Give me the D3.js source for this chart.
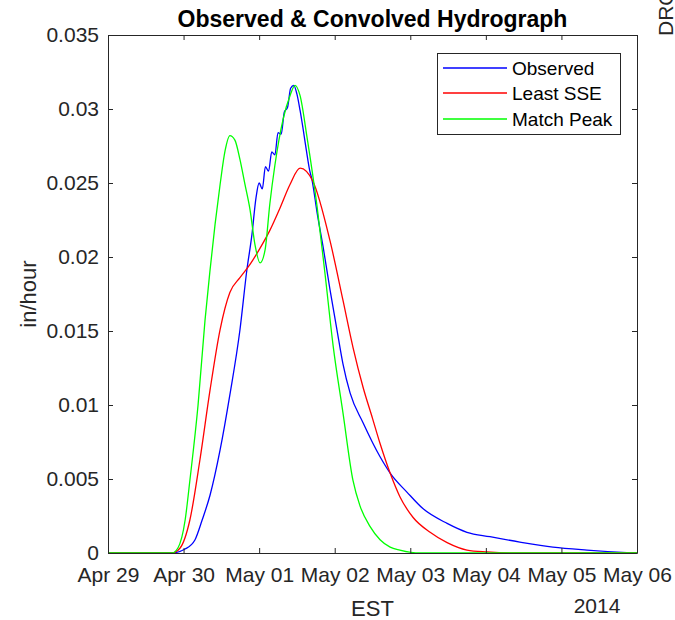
<!DOCTYPE html>
<html>
<head>
<meta charset="utf-8">
<script src="https://cdn.jsdelivr.net/npm/d3@7"></script>
<style>
  html, body { margin: 0; padding: 0; background: #fff; }
  svg { display: block; font-family: "Liberation Sans", Arial, Helvetica, sans-serif; }
</style>
</head>
<body>
<svg id="chart" width="675" height="620"></svg>
<script>
// ---- data (hours since 2014-04-29 00:00 EST, values in in/hour) ----
const obsHours = [0,20,24.5,27.6,29.9,32.4,35.6,38.7,41.9,44.1,45.7,47,48,49,50,51,52,53,54,55,56,57,58,59,60,61,62,63,64,64.8,66.4,68.3,70.5,72.7,74.6,76.9,81,86.4,89.6,95,100,107.7,114,121.3,130.8,141.3,152.1,164.8,168];
const obsValues = [0,0,0.00027,0.00088,0.00223,0.0039,0.00696,0.01068,0.01507,0.01912,0.02149,0.0240,0.0250,0.0246,0.0261,0.0258,0.0271,0.0269,0.0284,0.0283,0.0298,0.0301,0.0314,0.0316,0.0310,0.0299,0.0286,0.0272,0.0259,0.0252,0.0230,0.0207,0.0178,0.0151,0.0128,0.0108,0.0088,0.0065,0.0054,0.0041,0.0030,0.0020,0.0014,0.0011,0.00074,0.0004,0.0002,0.00003,0];

const lsseHours = [0,20.3,22.9,26.0,29.2,32.4,35.6,38.7,41.9,45.1,48.3,51.4,54.6,57.8,61.0,65.1,70.5,74.6,77.8,81,84,86.4,89.6,92.7,96.9,102.3,107.7,114,120.4,128.6,168];
const lsseValues = [0,0,0.00034,0.00223,0.0063,0.0110,0.0151,0.0176,0.0186,0.0195,0.0206,0.0218,0.0233,0.0249,0.0260,0.0251,0.0211,0.0171,0.0139,0.0112,0.0091,0.0074,0.0054,0.0038,0.0024,0.0014,0.0007,0.0002,0.00007,0,0];

const peakHours = [0,20.3,22.2,24.5,26.0,28.6,30.8,32.4,34.0,35.6,37.2,38.7,40.3,41.9,43.5,45.1,46.7,48.3,49.9,51.4,53.0,55.6,57.8,59.4,61.0,63.2,66.4,68.9,71.5,74.6,77.8,80.0,83.2,86.4,89.6,92.7,99.1,168];
const peakValues = [0,0,0.00034,0.00223,0.0049,0.0100,0.0157,0.0191,0.0222,0.0249,0.0272,0.0282,0.0279,0.0266,0.0249,0.0232,0.0208,0.0196,0.0205,0.0236,0.0262,0.0293,0.0309,0.0316,0.0309,0.0281,0.0234,0.0189,0.0140,0.0095,0.0049,0.0032,0.0018,0.0009,0.0004,0.0002,0,0];

const seriesNames = ["Observed", "Least SSE", "Match Peak"];
const seriesColors = ["#0000ff", "#ff0000", "#00ff00"];
const yTickValues = [0, 0.005, 0.01, 0.015, 0.02, 0.025, 0.03, 0.035];
const yTickLabels = ["0", "0.005", "0.01", "0.015", "0.02", "0.025", "0.03", "0.035"];
const titleText = "Observed & Convolved Hydrograph";
const xLabelText = "EST";
const yLabelText = "in/hour";
const yearText = "2014";

// ---- layout ----
const svg = d3.select("#chart");
const L = 108, R = 637, T = 35, B = 553;
const t0 = new Date(2014, 3, 29);
const t1 = new Date(2014, 4, 6);
const toDate = h => new Date(t0.getTime() + h * 3600 * 1000);

const x = d3.scaleTime().domain([t0, t1]).range([L, R]);
const y = d3.scaleLinear().domain([0, 0.035]).range([B, T]);
const axisColor = "#262626";

const series = [
  { hours: obsHours, values: obsValues },
  { hours: lsseHours, values: lsseValues },
  { hours: peakHours, values: peakValues }
];

svg.append("clipPath").attr("id", "clip")
  .append("rect").attr("x", L).attr("y", T).attr("width", R - L).attr("height", B - T);

const plot = svg.append("g").attr("clip-path", "url(#clip)");
series.forEach((s, i) => {
  const pts = s.hours.map((h, j) => [toDate(h), s.values[j]]);
  const line = d3.line().x(d => x(d[0])).y(d => y(d[1])).curve(d3.curveMonotoneX);
  plot.append("path").datum(pts)
    .attr("d", line)
    .attr("fill", "none")
    .attr("stroke", seriesColors[i])
    .attr("stroke-width", 1.3);
});

// axes (box style, ticks inside on all sides)
const xTicks = d3.timeDay.range(t0, d3.timeDay.offset(t1, 1));
const fmt = d3.timeFormat("%b %d");

const xAxisB = d3.axisBottom(x).tickValues(xTicks).tickFormat(fmt).tickSizeInner(-5).tickSizeOuter(0).tickPadding(14);
const xAxisT = d3.axisTop(x).tickValues(xTicks).tickFormat("").tickSizeInner(-5).tickSizeOuter(0);
const yAxisL = d3.axisLeft(y).tickValues(yTickValues).tickFormat((d, i) => yTickLabels[i]).tickSizeInner(-5).tickSizeOuter(0).tickPadding(9);
const yAxisR = d3.axisRight(y).tickValues(yTickValues).tickFormat("").tickSizeInner(-5).tickSizeOuter(0);

function style(g) {
  g.selectAll("path.domain").attr("stroke", axisColor).attr("stroke-width", 1);
  g.selectAll(".tick line").attr("stroke", axisColor).attr("stroke-width", 1);
  g.selectAll(".tick text").attr("fill", axisColor).attr("font-size", 21)
    .attr("font-family", "Liberation Sans, Arial, sans-serif");
}
svg.append("g").attr("transform", `translate(0,${B})`).call(xAxisB).call(style);
svg.append("g").attr("transform", `translate(0,${T})`).call(xAxisT).call(style);
svg.append("g").attr("transform", `translate(${L},0)`).call(yAxisL).call(style);
svg.append("g").attr("transform", `translate(${R},0)`).call(yAxisR).call(style);

// title & labels
svg.append("text").attr("x", (L + R) / 2).attr("y", 27).attr("text-anchor", "middle")
  .attr("font-size", 23).attr("font-weight", "bold").attr("fill", "#000").text(titleText);
svg.append("text").attr("x", (L + R) / 2).attr("y", 616).attr("text-anchor", "middle")
  .attr("font-size", 22).attr("fill", axisColor).text(xLabelText);
svg.append("text").attr("x", 597).attr("y", 613).attr("text-anchor", "middle")
  .attr("font-size", 21).attr("fill", axisColor).text(yearText);
svg.append("text").attr("transform", `translate(36,${(T + B) / 2}) rotate(-90)`)
  .attr("text-anchor", "middle").attr("font-size", 22).attr("fill", axisColor).text(yLabelText);

// fragment of neighbouring subplot label (cut by the image edge, as in the source)
svg.append("text").attr("transform", "translate(673,36) rotate(-90)")
  .attr("text-anchor", "start").attr("font-size", 21).attr("fill", axisColor).text("DRO");

// legend
const lg = svg.append("g");
lg.append("rect").attr("x", 437.5).attr("y", 53.5).attr("width", 183).attr("height", 81)
  .attr("fill", "#fff").attr("stroke", axisColor).attr("stroke-width", 1);
const rowsY = [68, 93, 119];
seriesNames.forEach((name, i) => {
  lg.append("line").attr("x1", 443).attr("x2", 507).attr("y1", rowsY[i]).attr("y2", rowsY[i])
    .attr("stroke", seriesColors[i]).attr("stroke-width", 1.3);
  lg.append("text").attr("x", 512).attr("y", rowsY[i] + 7).attr("font-size", 19)
    .attr("fill", "#000").text(name);
});
</script>
</body>
</html>
